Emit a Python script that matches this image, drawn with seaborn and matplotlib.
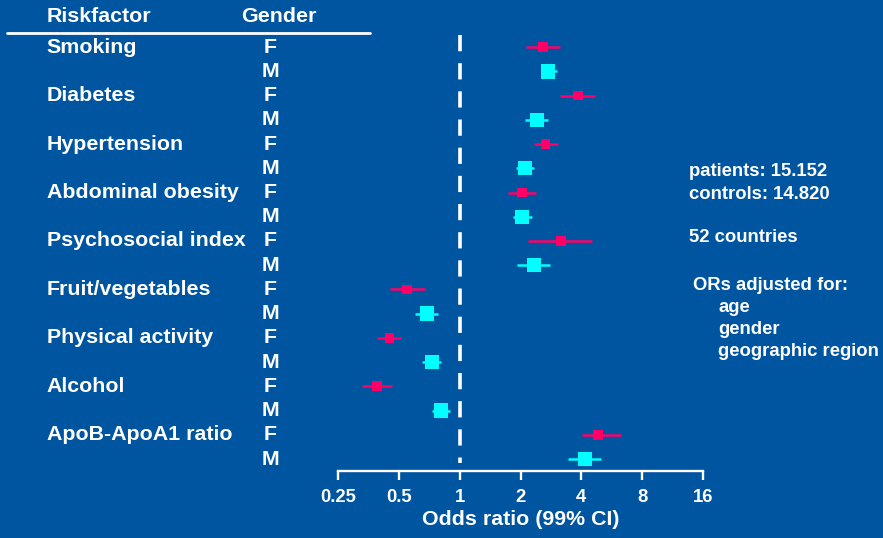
import matplotlib
matplotlib.use("Agg")
import matplotlib.pyplot as plt
import matplotlib.transforms as mtransforms
from matplotlib.lines import Line2D
import seaborn as sns
import pandas as pd
import numpy as np

# risk factors (INTERHEART style forest plot), odds ratios
riskfactors = ["Smoking", "Diabetes", "Hypertension", "Abdominal obesity",
               "Psychosocial index", "Fruit/vegetables", "Physical activity",
               "Alcohol", "ApoB-ApoA1 ratio"]
or_f = [2.58, 3.84, 2.66, 2.03, 3.17, 0.55, 0.45, 0.39, 4.85]
lo_f = [2.12, 3.12, 2.32, 1.73, 2.19, 0.45, 0.39, 0.33, 4.02]
hi_f = [3.15, 4.66, 3.06, 2.39, 4.53, 0.67, 0.51, 0.46, 6.28]
or_m = [2.74, 2.42, 2.10, 2.03, 2.33, 0.69, 0.73, 0.81, 4.18]
lo_m = [2.52, 2.11, 1.91, 1.83, 1.92, 0.60, 0.65, 0.73, 3.42]
hi_m = [3.04, 2.74, 2.32, 2.28, 2.81, 0.78, 0.81, 0.90, 5.01]
ticks = [0.25, 0.5, 1, 2, 4, 8, 16]
tick_labels = ["0.25", "0.5", "1", "2", "4", "8", "16"]
notes = ["patients: 15.152", "controls: 14.820", "52 countries"]
adjusted = ["age", "gender", "geographic region"]

bg = "#0055A0"
pink = "#FF0066"
cyan = "#00FFFF"

sns.set_style("white")
plt.rcParams["font.family"] = ["Liberation Sans", "DejaVu Sans"]
plt.rcParams["font.weight"] = "bold"

# long table, one row per riskfactor/gender
rows = []
for i, rf in enumerate(riskfactors):
    rows.append(dict(rf=rf, gender="F", row=2 * i, OR=or_f[i], lo=lo_f[i], hi=hi_f[i]))
    rows.append(dict(rf=rf, gender="M", row=2 * i + 1, OR=or_m[i], lo=lo_m[i], hi=hi_m[i]))
df = pd.DataFrame(rows)

W, H = 883, 538
fig = plt.figure(figsize=(W / 100, H / 100), dpi=100, facecolor=bg)
ax = fig.add_axes([338 / W, (H - 470.7) / H, 365 / W, (470.7 - 35) / H])
ax.set_facecolor(bg)

colors = {"F": pink, "M": cyan}
for g, sub in df.groupby("gender"):
    ax.hlines(sub["row"], sub["lo"], sub["hi"], color=colors[g], lw=1.8, zorder=2)

sns.scatterplot(data=df, x="OR", y="row", hue="gender", palette=colors,
                size="gender", sizes={"F": 50, "M": 108}, marker="s",
                edgecolor="none", legend=False, ax=ax, zorder=3)

ax.plot([1, 1], [-0.5, 17.17], color="white", lw=2.6, ls=(0, (4.5, 3.3)), zorder=1)

ax.set_xscale("log", base=2)
ax.set_xlim(0.25, 16)
ax.set_ylim(17.48, -0.5)
ax.set_xticks(ticks)
ax.set_xticklabels(tick_labels)
ax.minorticks_off()
ax.set_yticks([])
ax.set_ylabel("")
for s in ["top", "right", "left"]:
    ax.spines[s].set_visible(False)
ax.spines["bottom"].set_color("white")
ax.spines["bottom"].set_linewidth(1.7)
ax.tick_params(axis="x", colors="white", labelcolor="white", length=6.2,
               width=1.7, pad=7, labelsize=13.3, direction="out", bottom=True)
ax.set_xlabel("Odds ratio (99% CI)", color="white", fontsize=15.4,
              fontweight="bold", labelpad=3)

# left-hand table
trans = mtransforms.blended_transform_factory(fig.transFigure, ax.transData)
for i, rf in enumerate(riskfactors):
    ax.text(46.7 / W, 2 * i, rf, transform=trans, ha="left", va="center",
            color="white", fontsize=15.4, fontweight="bold")
for _, r in df.iterrows():
    ax.text(270.5 / W, r["row"], r["gender"], transform=trans, ha="center",
            va="center", color="white", fontsize=15.4, fontweight="bold")

fig.text(46.7 / W, 1 - 16.7 / H, "Riskfactor", ha="left", va="center",
         color="white", fontsize=15.4, fontweight="bold")
fig.text(279 / W, 1 - 16.7 / H, "Gender", ha="center", va="center",
         color="white", fontsize=15.4, fontweight="bold")
fig.add_artist(Line2D([7 / W, 370 / W], [1 - 33.3 / H, 1 - 33.3 / H],
                      color="white", lw=2, transform=fig.transFigure))

# notes on the right
for txt, y in zip(notes, [171.7, 194.3, 237.7]):
    fig.text(689.3 / W, 1 - y / H, txt, ha="left", va="center",
             color="white", fontsize=13.3, fontweight="bold")
fig.text(692.7 / W, 1 - 285 / H, "ORs adjusted for:", ha="left", va="center",
         color="white", fontsize=13.3, fontweight="bold")
for txt, y in zip(adjusted, [307.7, 329, 351.7]):
    fig.text(718.3 / W, 1 - y / H, txt, ha="left", va="center",
             color="white", fontsize=13.3, fontweight="bold")

fig.savefig("out.png", dpi=100, facecolor=bg)
